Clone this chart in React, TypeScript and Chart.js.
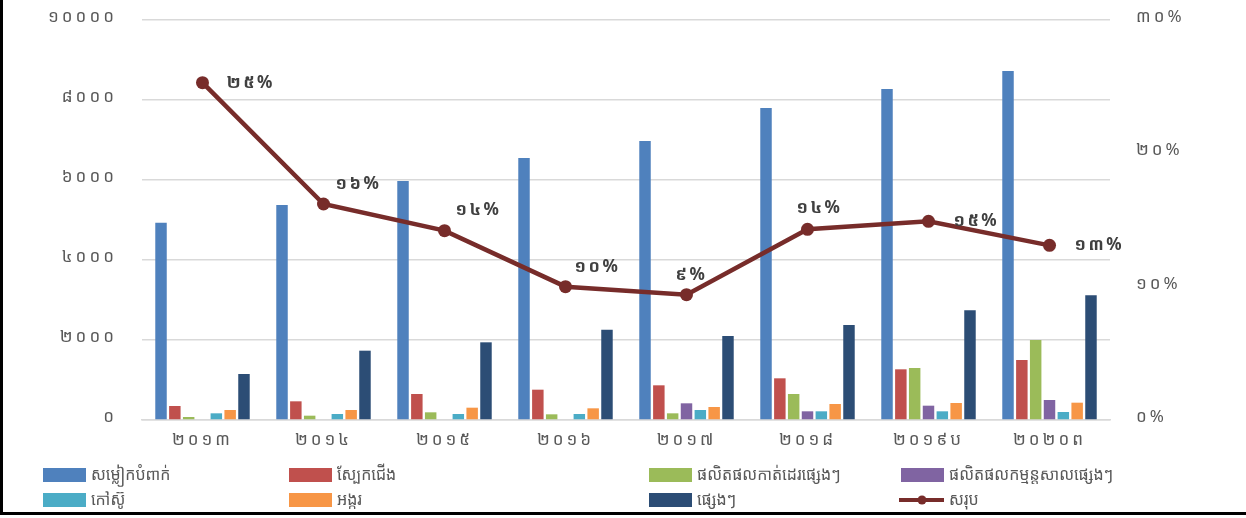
import React, { useEffect, useRef } from 'react';
import { Chart, registerables } from 'chart.js';

Chart.register(...registerables);

// ---- data ----
const categories = ['២០១៣', '២០១៤', '២០១៥', '២០១៦', '២០១៧', '២០១៨', '២០១៩ប', '២០២០ព'];
const seriesNames = [
  'សម្លៀកបំពាក់',
  'ស្បែកជើង',
  'ផលិតផលកាត់ដេរផ្សេងៗ',
  'ផលិតផលកម្មន្តសាលផ្សេងៗ',
  'កៅស៊ូ',
  'អង្ករ',
  'ផ្សេងៗ',
  'សរុប',
];
const apparel = [4930, 5375, 5975, 6550, 6975, 7800, 8275, 8725];
const footwear = [350, 467, 650, 758, 867, 1042, 1267, 1500];
const otherGarments = [75, 108, 192, 142, 167, 650, 1300, 2000];
const otherManufacturing = [0, 0, 0, 0, 417, 217, 358, 500];
const rubber = [167, 150, 150, 150, 250, 217, 217, 200];
const rice = [250, 250, 308, 292, 325, 400, 425, 433];
const others = [1150, 1733, 1942, 2258, 2100, 2375, 2742, 3117];
const totalGrowth = [25.3, 16.2, 14.2, 10.0, 9.4, 14.3, 14.9, 13.1];
const leftTicks = [0, 2000, 4000, 6000, 8000, 10000];
const rightTicks = [0, 10, 20, 30];

// ---- styling ----
const colors = ['#4F81BD', '#C0504D', '#9BBB59', '#8064A2', '#4BACC6', '#F79646', '#2C4D75', '#772C2A'];
const FONT = "'Noto Sans Khmer', 'Khmer OS Siemreap', 'Khmer OS', 'Noto Sans', sans-serif";
const AXIS_COLOR = '#595959';
// label placement relative to each line point (dx, dy in px)
const labelPlacement: [number, number][] = [
  [24, 0], [12, -20], [11, -21], [9, -20], [-11, -20], [-11, -21], [25, 0], [25, 0],
];

const KH_DIGITS = '០១២៣៤៥៦៧៨៩';
const toKh = (v: string | number) => String(v).replace(/[0-9]/g, (d) => KH_DIGITS[Number(d)]);

const spacingPlugin = {
  id: 'tickSpacing',
  beforeDraw(chart: any) {
    chart.ctx.letterSpacing = '3px';
  },
};

const legendPlugin = {
  id: 'customLegend',
  afterDraw(chart: any) {
    const ctx = chart.ctx;
    const cols = [43, 289, 649, 901];
    const rows = [475, 500];
    ctx.save();
    ctx.letterSpacing = '0px';
    ctx.font = `16px ${FONT}`;
    ctx.textBaseline = 'middle';
    ctx.textAlign = 'left';
    chart.data.datasets.forEach((ds: any, i: number) => {
      const x = cols[i % 4];
      const y = rows[Math.floor(i / 4)];
      if (ds.type === 'line') {
        ctx.strokeStyle = ds.borderColor;
        ctx.lineWidth = 4;
        ctx.beginPath();
        ctx.moveTo(x - 2, y);
        ctx.lineTo(x + 43, y);
        ctx.stroke();
        ctx.fillStyle = ds.borderColor;
        ctx.beginPath();
        ctx.arc(x + 21, y, 4.5, 0, Math.PI * 2);
        ctx.fill();
      } else {
        ctx.fillStyle = ds.backgroundColor;
        ctx.fillRect(x, y - 7, 43, 14);
      }
      ctx.fillStyle = AXIS_COLOR;
      ctx.fillText(ds.label, x + 48, y);
    });
    ctx.restore();
    ctx.letterSpacing = '0px';
  },
};

const lineLabelPlugin = {
  id: 'lineLabels',
  afterDatasetsDraw(chart: any) {
    const ctx = chart.ctx;
    chart.data.datasets.forEach((ds: any, di: number) => {
      if (ds.type !== 'line') return;
      const meta = chart.getDatasetMeta(di);
      ctx.save();
      ctx.letterSpacing = '2.5px';
      ctx.font = `bold 17px ${FONT}`;
      ctx.fillStyle = '#404040';
      ctx.textAlign = 'left';
      ctx.textBaseline = 'middle';
      meta.data.forEach((pt: any, i: number) => {
        const [dx, dy] = labelPlacement[i] || [20, 0];
        ctx.fillText(toKh(Math.round(ds.data[i])) + '%', pt.x + dx, pt.y + dy);
      });
      ctx.restore();
    });
  },
};

export default function App() {
  const ref = useRef<HTMLCanvasElement | null>(null);

  useEffect(() => {
    if (!ref.current) return;
    const barSeries = [apparel, footwear, otherGarments, otherManufacturing, rubber, rice, others];
    const datasets: any[] = barSeries.map((data, i) => ({
      type: 'bar',
      label: seriesNames[i],
      data,
      backgroundColor: colors[i],
      borderWidth: 0,
      categoryPercentage: 0.8,
      barPercentage: 0.83,
      yAxisID: 'y',
      order: 2,
    }));
    datasets.push({
      type: 'line',
      label: seriesNames[7],
      data: totalGrowth,
      borderColor: colors[7],
      backgroundColor: colors[7],
      borderWidth: 4.5,
      pointRadius: 6.5,
      pointBackgroundColor: colors[7],
      pointBorderWidth: 0,
      tension: 0,
      yAxisID: 'y1',
      order: 0,
    });

    const chart = new Chart(ref.current, {
      type: 'bar',
      data: { labels: categories, datasets },
      plugins: [spacingPlugin, legendPlugin, lineLabelPlugin],
      options: {
        animation: false,
        responsive: false,
        devicePixelRatio: 1,
        layout: { padding: { top: 20, left: 0, right: 0, bottom: 0 } },
        plugins: {
          legend: { display: false },
          tooltip: { enabled: false },
        },
        scales: {
          x: {
            grid: { display: false },
            border: { display: true, color: '#D9D9D9', width: 1.5 },
            ticks: { color: AXIS_COLOR, font: { family: FONT, size: 17 }, padding: 2, maxRotation: 0 },
            afterFit(s: any) { s.height = 98; },
          },
          y: {
            position: 'left',
            min: leftTicks[0],
            max: leftTicks[leftTicks.length - 1],
            afterBuildTicks(s: any) { s.ticks = leftTicks.map((v) => ({ value: v })); },
            ticks: { color: AXIS_COLOR, font: { family: FONT, size: 17 }, padding: 25, labelOffset: -3, callback: (v: any) => toKh(v) },
            grid: { color: '#D9D9D9', lineWidth: 1.5, drawTicks: false },
            border: { display: false },
            afterFit(s: any) { s.width = 142; s.paddingTop = 0; s.paddingBottom = 0; },
          },
          y1: {
            position: 'right',
            min: rightTicks[0],
            max: rightTicks[rightTicks.length - 1],
            afterBuildTicks(s: any) { s.ticks = rightTicks.map((v) => ({ value: v })); },
            ticks: { color: AXIS_COLOR, font: { family: FONT, size: 17 }, padding: 26, labelOffset: -3, callback: (v: any) => toKh(v) + '%' },
            grid: { display: false, drawTicks: false },
            border: { display: false },
            afterFit(s: any) { s.width = 136; s.paddingTop = 0; s.paddingBottom = 0; },
          },
        },
      },
    } as any);
    return () => chart.destroy();
  }, []);

  return (
    <div style={{ position: 'absolute', left: 0, top: 0, width: 1246, height: 518, background: '#fff' }}>
      <canvas ref={ref} width={1246} height={518} style={{ display: 'block', width: 1246, height: 518 }} />
      <div
        style={{
          position: 'absolute', left: 0, top: 0, width: 1246, height: 512,
          borderLeft: '3px solid #000', borderBottom: '3px solid #000', pointerEvents: 'none',
        }}
      />
    </div>
  );
}
